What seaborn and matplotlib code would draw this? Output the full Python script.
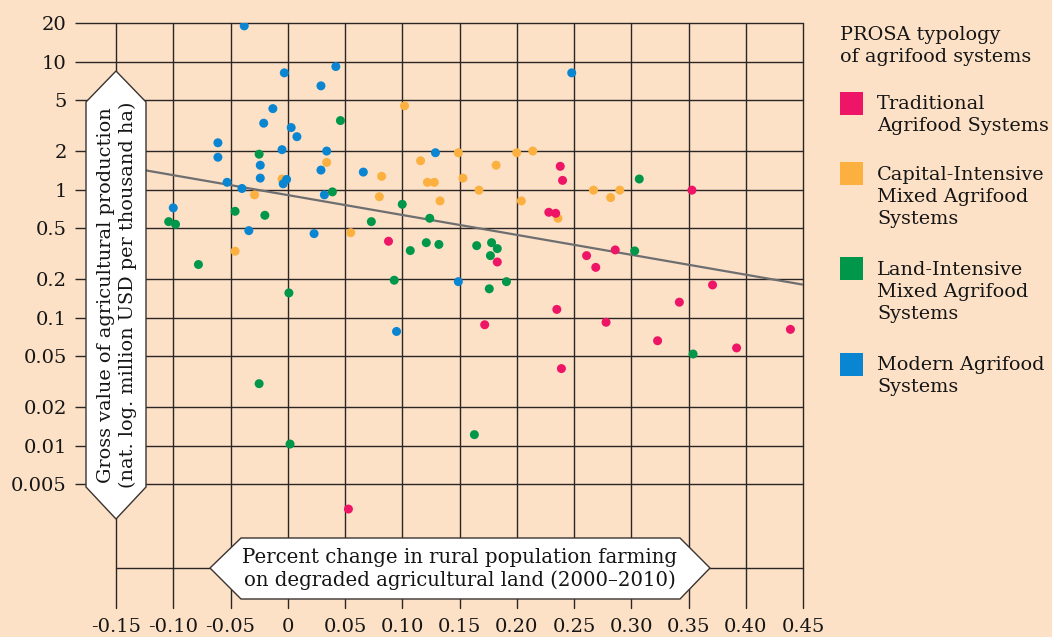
import numpy as np
import pandas as pd
import matplotlib
matplotlib.use("Agg")
import matplotlib.pyplot as plt
from matplotlib.patches import Polygon, Rectangle
import seaborn as sns

# ---- data: change in rural population on degraded land vs. gross value of production ----
trad_x = [0.088, 0.238, 0.240, 0.228, 0.234, 0.183, 0.261, 0.269, 0.286, 0.353,
          0.371, 0.342, 0.235, 0.172, 0.278, 0.323, 0.392, 0.439, 0.239, 0.053]
trad_y = [0.395, 1.52, 1.18, 0.665, 0.653, 0.272, 0.305, 0.247, 0.338, 0.99,
          0.180, 0.132, 0.116, 0.088, 0.092, 0.066, 0.058, 0.081, 0.040, 0.0032]

cap_x = [0.102, 0.034, 0.082, -0.005, -0.029, 0.080, 0.055, -0.046, 0.116, 0.149,
         0.122, 0.128, 0.133, 0.153, 0.167, 0.182, 0.200, 0.214, 0.204, 0.236,
         0.267, 0.282, 0.290]
cap_y = [4.51, 1.63, 1.27, 1.21, 0.91, 0.88, 0.461, 0.33, 1.68, 1.94,
         1.14, 1.14, 0.816, 1.23, 0.99, 1.55, 1.94, 2.0, 0.816, 0.597,
         0.99, 0.866, 0.99]

land_x = [0.046, -0.025, 0.039, -0.046, -0.020, -0.104, -0.098, 0.073, 0.100, 0.107,
          -0.078, 0.093, 0.001, -0.025, 0.002, 0.124, 0.121, 0.132, 0.165, 0.178,
          0.183, 0.177, 0.176, 0.191, 0.303, 0.307, 0.163, 0.354]
land_y = [3.46, 1.89, 0.96, 0.677, 0.63, 0.562, 0.536, 0.562, 0.768, 0.334,
          0.26, 0.196, 0.156, 0.0305, 0.0103, 0.597, 0.385, 0.373, 0.365, 0.385,
          0.346, 0.305, 0.168, 0.191, 0.332, 1.21, 0.0122, 0.052]

mod_x = [-0.038, -0.003, 0.042, 0.029, -0.013, -0.021, 0.003, 0.008, -0.061, -0.061,
         -0.005, 0.034, -0.024, 0.029, -0.024, -0.001, -0.004, -0.053, -0.040, 0.032,
         0.066, -0.100, -0.034, 0.023, 0.248, 0.129, 0.149, 0.095]
mod_y = [19.0, 8.16, 9.14, 6.46, 4.29, 3.30, 3.05, 2.59, 2.32, 1.79,
         2.05, 2.00, 1.55, 1.42, 1.23, 1.20, 1.11, 1.14, 1.02, 0.91,
         1.37, 0.72, 0.478, 0.453, 8.16, 1.94, 0.191, 0.078]

# fitted trend (log scale), end points
trend_x = [-0.15, 0.45]
trend_y = [1.55, 0.181]

categories = ["Traditional\nAgrifood Systems",
              "Capital-Intensive\nMixed Agrifood\nSystems",
              "Land-Intensive\nMixed Agrifood\nSystems",
              "Modern Agrifood\nSystems"]
colors = ["#EE1566", "#FBB040", "#00974A", "#0A85D1"]

xticks = [-0.15, -0.10, -0.05, 0, 0.05, 0.10, 0.15, 0.20, 0.25, 0.30, 0.35, 0.40, 0.45]
xtick_labels = ["-0.15", "-0.10", "-0.05", "0", "0.05", "0.10", "0.15", "0.20",
                "0.25", "0.30", "0.35", "0.40", "0.45"]
yticks = [20, 10, 5, 2, 1, 0.5, 0.2, 0.1, 0.05, 0.02, 0.01, 0.005]
ytick_labels = ["20", "10", "5", "2", "1", "0.5", "0.2", "0.1", "0.05", "0.02", "0.01", "0.005"]
extra_line = 0.0011

# draw order: capital, modern, land, traditional
groups = [(cap_x, cap_y, categories[1]), (mod_x, mod_y, categories[3]),
          (land_x, land_y, categories[2]), (trad_x, trad_y, categories[0])]
df = pd.concat([pd.DataFrame({"x": gx, "y": gy, "system": name}) for gx, gy, name in groups],
               ignore_index=True)
palette = dict(zip(categories, colors))

sns.set_theme(style="white")
plt.rcParams["font.family"] = ["DejaVu Serif"]

BG = "#FCE1C7"
GRID = "#2b2624"
TXT = "#151515"
W, H = 1052, 637


def fp(x, y):
    return (x / W, 1 - y / H)


fig = plt.figure(figsize=(W / 100, H / 100), dpi=100, facecolor=BG)
ax = fig.add_axes([116 / W, 1 - 608 / H, (803 - 116) / W, (608 - 23) / H])
ax.set_facecolor(BG)
ax.set_yscale("log")
ax.set_xlim(-0.15, 0.45)
ax.set_ylim(0.00054, 20)
ax.minorticks_off()

for s in ax.spines.values():
    s.set_visible(False)

for xv in xticks:
    ax.axvline(xv, color=GRID, lw=1.0, zorder=1, clip_on=False)
for yv in yticks + [extra_line]:
    ax.axhline(yv, color=GRID, lw=1.0, zorder=1, clip_on=False)

ax.set_xticks(xticks)
ax.set_xticklabels(xtick_labels)
ax.set_yticks(yticks)
ax.set_yticklabels(ytick_labels)
ax.tick_params(axis="y", length=29.5, width=1.0, color=GRID, pad=6,
               labelsize=14, labelcolor=TXT, left=True)
ax.tick_params(axis="x", length=0, pad=7, labelsize=14, labelcolor=TXT)

ax.plot(trend_x, trend_y, color="#6E6E70", lw=1.6, zorder=2, solid_capstyle="butt")

sns.scatterplot(data=df, x="x", y="y", hue="system", palette=palette,
                s=42, linewidth=0, legend=False, ax=ax, zorder=3)
ax.set_xlabel("")
ax.set_ylabel("")

# y-axis title in a double-pointed box
ybox = [fp(86, 102), fp(116, 71), fp(146, 102), fp(146, 487), fp(116, 519), fp(86, 487)]
fig.add_artist(Polygon(ybox, closed=True, transform=fig.transFigure, facecolor="white",
                       edgecolor="#3a3330", lw=1.0, zorder=5))
fig.text(*fp(117, 295), "Gross value of agricultural production\n(nat. log. million USD per thousand ha)",
         rotation=90, ha="center", va="center", multialignment="center",
         fontsize=13.9, color=TXT, linespacing=1.2, zorder=6)

# x-axis title in a double-pointed box
xbox = [fp(210, 568), fp(241, 538), fp(680, 538), fp(710, 568), fp(680, 599), fp(241, 599)]
fig.add_artist(Polygon(xbox, closed=True, transform=fig.transFigure, facecolor="white",
                       edgecolor="#3a3330", lw=1.0, zorder=5))
fig.text(*fp(460, 569), "Percent change in rural population farming\non degraded agricultural land (2000\u20132010)",
         ha="center", va="center", multialignment="center",
         fontsize=14.2, color=TXT, linespacing=1.15, zorder=6)

# legend
LFS = 13.9
fig.text(*fp(840, 46), "PROSA typology\nof agrifood systems", ha="left", va="center",
         fontsize=LFS, color=TXT, linespacing=1.28)
sq_tops = [92, 162, 257, 353]
text_centers = [115, 197, 292, 376]
for name, col, top, tc in zip(categories, colors, sq_tops, text_centers):
    x0, y0 = fp(840, top + 23)
    fig.add_artist(Rectangle((x0, y0), 23 / W, 23 / H, transform=fig.transFigure,
                             facecolor=col, edgecolor="none"))
    fig.text(*fp(877, tc), name, ha="left", va="center", fontsize=LFS,
             color=TXT, linespacing=1.28)

fig.savefig("out.png", dpi=100, facecolor=BG)
